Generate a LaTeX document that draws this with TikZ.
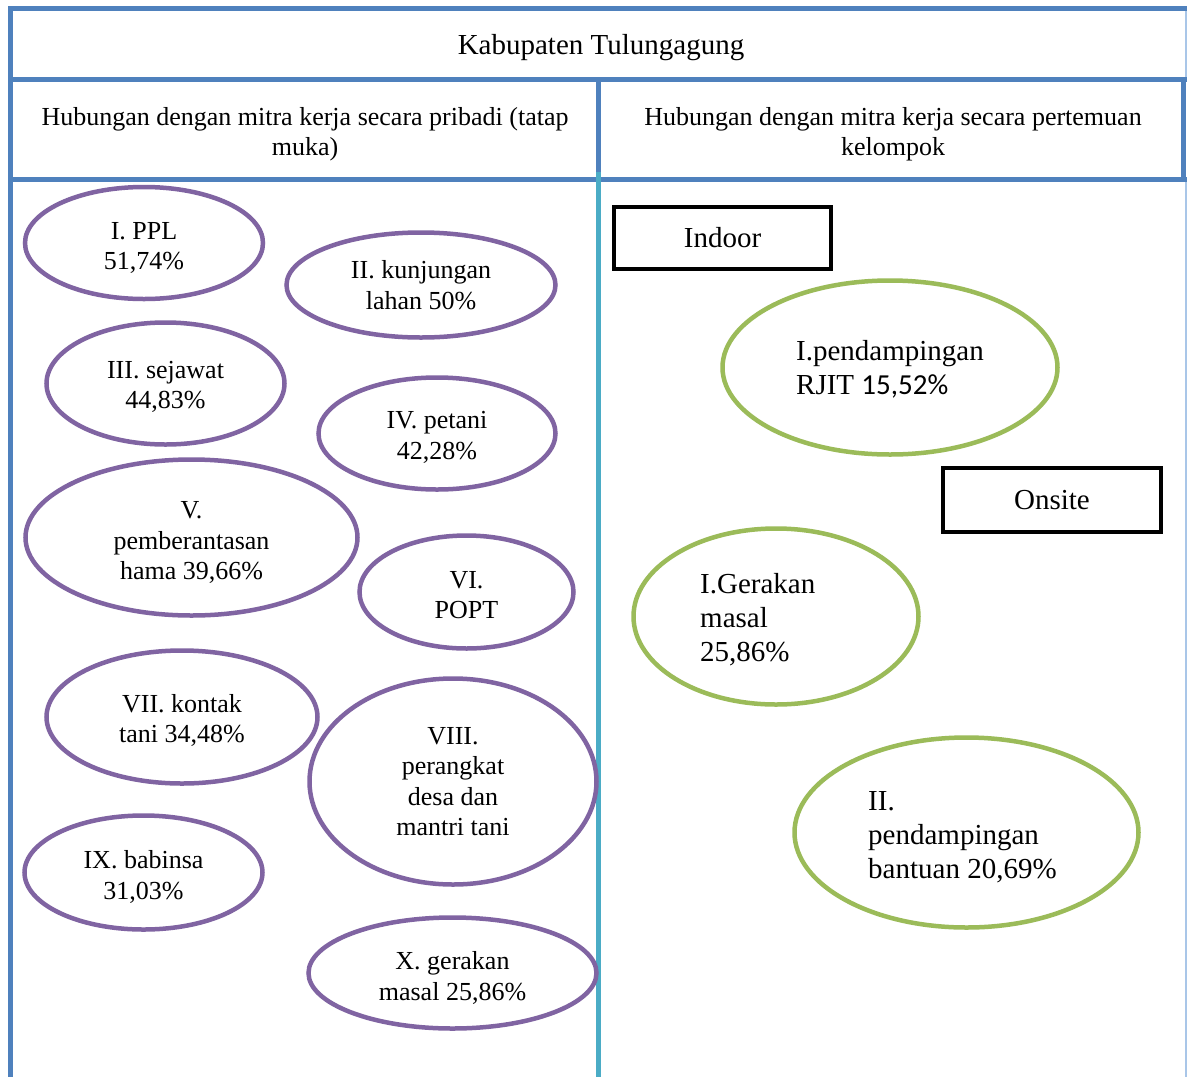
\documentclass[tikz,border=0pt]{standalone}
\usepackage{fontspec}
\setmainfont{Liberation Serif}
\newfontfamily\calib{Carlito}
\usetikzlibrary{shapes.geometric}
\definecolor{framecol}{HTML}{4F81BD}
\definecolor{divcol}{HTML}{4BACC6}
\definecolor{edgecol}{HTML}{A9C6E8}
\definecolor{purplecol}{HTML}{8064A2}
\definecolor{greencol}{HTML}{9BBB59}
\newcommand\lefttext{\fontsize{26}{30.5}\selectfont}
\newcommand\righttext{\fontsize{29}{34}\selectfont}
\tikzset{
  frameline/.style={draw=framecol, line width=5pt},
  purpleoval/.style={ellipse, draw=purplecol, line width=4.5pt, inner sep=0pt},
  greenoval/.style={ellipse, draw=greencol, line width=4.5pt, inner sep=0pt},
  lefttxt/.style={align=center, font=\lefttext, inner sep=0pt},
  righttxt/.style={align=left, font=\righttext, inner sep=0pt},
  tagbox/.style={rectangle, draw=black, line width=4pt, inner sep=0pt,
    font=\righttext},
  headtext/.style={align=center, font=\lefttext, inner sep=0pt}
}
\begin{document}
\begin{tikzpicture}[x=1pt, y=-1pt]
\useasboundingbox (0,0) rectangle (1187,1077);
\fill[white] (0,0) rectangle (1187,1077);

% frame of the table
\draw[frameline] (10.5,6) -- (10.5,1077);
\draw[frameline] (8,8.5) -- (1187,8.5);
\draw[frameline] (8,79.5) -- (1187,79.5);
\draw[frameline] (8,179.5) -- (1187,179.5);
\draw[frameline] (598.5,79.5) -- (598.5,179.5);
\draw[frameline] (1183.5,79.5) -- (1183.5,179.5);
\draw[draw=divcol, line width=5pt] (598.5,172) -- (598.5,1077);
\draw[draw=edgecol, line width=1.5pt] (1185.8,11) -- (1185.8,77);
\draw[draw=edgecol, line width=1.5pt] (1185.8,182) -- (1185.8,1077);

% headings
\node[headtext, font=\righttext] (title) at (601,48) {Kabupaten Tulungagung};
\node[headtext] (headL) at (305,134) {Hubungan dengan mitra kerja secara pribadi (tatap\\muka)};
\node[headtext] (headR) at (893,134) {Hubungan dengan mitra kerja secara pertemuan\\kelompok};

% face-to-face partners
\node[purpleoval, minimum width=238pt, minimum height=112pt] (e1) at (144,243) {};
\node[purpleoval, minimum width=269pt, minimum height=105pt] (e2) at (421,285) {};
\node[purpleoval, minimum width=238pt, minimum height=122pt] (e3) at (165.5,383.5) {};
\node[purpleoval, minimum width=237pt, minimum height=112pt] (e4) at (437,433.5) {};
\node[purpleoval, minimum width=332pt, minimum height=156pt] (e5) at (191.5,537.5) {};
\node[purpleoval, minimum width=214pt, minimum height=113pt] (e6) at (466.5,592) {};
\node[purpleoval, minimum width=271pt, minimum height=133pt] (e7) at (182,717) {};
\node[purpleoval, minimum width=287pt, minimum height=206pt] (e8) at (453,781.5) {};
\node[purpleoval, minimum width=238pt, minimum height=114pt] (e9) at (143.5,872.5) {};
\node[purpleoval, minimum width=288pt, minimum height=111pt] (e10) at (452.5,973) {};

\node[lefttxt] (t1) at ([yshift=-5pt]e1.center) {I. PPL\\51,74\%};
\node[lefttxt] (t2) at (e2.center) {II. kunjungan\\lahan 50\%};
\node[lefttxt] (t3) at ([yshift=-3.5pt]e3.center) {III. sejawat\\44,83\%};
\node[lefttxt] (t4) at ([yshift=-4pt]e4.center) {IV. petani\\42,28\%};
\node[lefttxt] (t5) at ([yshift=-5pt]e5.center) {V.\\pemberantasan\\hama 39,66\%};
\node[lefttxt] (t6) at ([yshift=-3pt]e6.center) {VI.\\POPT};
\node[lefttxt] (t7) at ([yshift=-3.5pt]e7.center) {VII. kontak\\tani 34,48\%};
\node[lefttxt] (t8) at (e8.center) {VIII.\\perangkat\\desa dan\\mantri tani};
\node[lefttxt] (t9) at ([yshift=-4.5pt]e9.center) {IX. babinsa\\31,03\%};
\node[lefttxt] (t10) at ([yshift=-5pt]e10.center) {X. gerakan\\masal 25,86\%};

% group meetings
\node[tagbox, minimum width=217pt, minimum height=62pt] (indoor) at (722.5,238) {\raisebox{-2pt}{Indoor}};
\node[tagbox, minimum width=218pt, minimum height=64pt] (onsite) at (1052,500) {\raisebox{-1pt}{Onsite}};

\node[greenoval, minimum width=335pt, minimum height=174pt] (g1) at (890,367.5) {};
\node[greenoval, minimum width=285pt, minimum height=176pt] (g2) at (776,616.5) {};
\node[greenoval, minimum width=344pt, minimum height=190pt] (g3) at (966.5,832.5) {};

\node[righttxt, anchor=west] (s1) at ([xshift=-94pt, yshift=-2pt]g1.center) {I.pendampingan\\RJIT {\calib 15,52\%}};
\node[righttxt, anchor=west] (s2) at ([xshift=-76pt, yshift=-3pt]g2.center) {I.Gerakan\\masal\\25,86\%};
\node[righttxt, anchor=west] (s3) at ([xshift=-98.5pt, yshift=-5pt]g3.center) {II.\\pendampingan\\bantuan 20,69\%};
\end{tikzpicture}
\end{document}
